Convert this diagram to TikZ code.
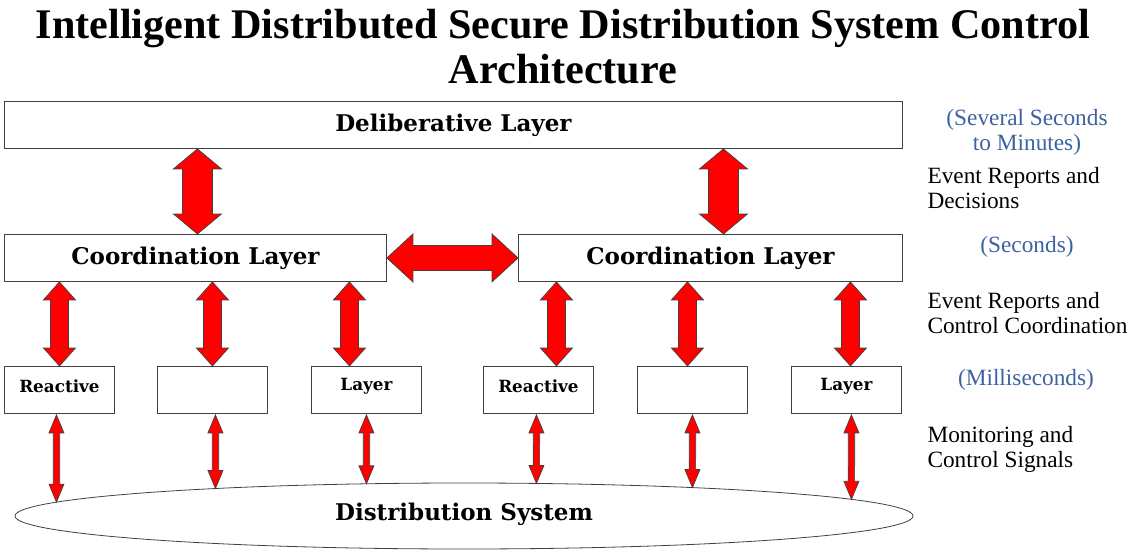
\documentclass[tikz,border=0pt]{standalone}
\usepackage{fontspec}
\setmainfont{Liberation Serif}
\newfontfamily\labelfont{DejaVu Serif}
\usetikzlibrary{calc,intersections}

\definecolor{timeblue}{RGB}{60,98,160}
\definecolor{edgegrey}{RGB}{64,64,64}

% fat double arrow, vertical: top tip, bottom tip, head half-width, shaft half-width, head length
\newcommand\vfat[5]{%
  \draw[fatarrow] (#1) -- ++(#3,#5) -- ++({#4-#3},0) -- ($(#2)+(#4,-#5)$)
    -- ++({#3-#4},0) -- (#2) -- ++(-#3,-#5) -- ++({#3-#4},0)
    -- ($(#1)+(-#4,#5)$) -- ++({#4-#3},0) -- cycle;}
% fat double arrow, horizontal: left tip, right tip, head half-width, shaft half-width, head length
\newcommand\hfat[5]{%
  \draw[fatarrow] (#1) -- ++(#5,-#3) -- ++(0,{#3-#4}) -- ($(#2)+(-#5,-#4)$)
    -- ++(0,{#4-#3}) -- (#2) -- ++(-#5,#3) -- ++(0,{#4-#3})
    -- ($(#1)+(#5,#4)$) -- ++(0,{#3-#4}) -- cycle;}

\begin{document}
\begin{tikzpicture}[x=1pt,y=-1pt,
  layerbox/.style={draw=edgegrey,line width=0.9pt,fill=white,inner sep=0pt,anchor=north west},
  boxlabel/.style={font=\labelfont\bfseries\fontsize{23}{26}\selectfont},
  smalllabel/.style={font=\labelfont\bfseries\fontsize{16.8}{19}\selectfont},
  fatarrow/.style={fill=red,draw=edgegrey,line width=0.7pt,line join=miter},
  timenote/.style={text=timeblue,font=\fontsize{23.3}{25}\selectfont,align=center},
  flownote/.style={font=\fontsize{23.3}{25}\selectfont,align=left,anchor=west}]
\useasboundingbox (0,0) rectangle (1128,552);

% title
\node[font=\bfseries\fontsize{42.2}{45}\selectfont,align=center] (title) at (563,47)
  {Intelligent Distributed Secure Distribution System Control\\Architecture};

% deliberative layer
\node[layerbox,minimum width=898pt,minimum height=47pt] (delib) at (4,101) {};
\node[boxlabel] (deliblbl) at (delib.center) {Deliberative Layer};

% coordination layers
\node[layerbox,minimum width=382pt,minimum height=47pt] (cl) at (4,234) {};
\node[boxlabel] (cllbl) at (cl.center) {Coordination Layer};
\node[layerbox,minimum width=384pt,minimum height=47pt] (cr) at (518,234) {};
\node[boxlabel] (crlbl) at (cr.center) {Coordination Layer};

% reactive layer boxes
\foreach \i/\x in {1/4,2/157,3/311,4/483,5/637,6/791}
  \node[layerbox,minimum width=110pt,minimum height=47pt] (r\i) at (\x,366) {};
\node[smalllabel] (r1lbl) at ($(r1.center)+(0,-4)$) {Reactive};
\node[smalllabel] (r3lbl) at ($(r3.center)+(0,-4)$) {Layer};
\node[smalllabel] (r4lbl) at ($(r4.center)+(0,-4)$) {Reactive};
\node[smalllabel] (r6lbl) at ($(r6.center)+(0,-4)$) {Layer};

% distribution system
\draw[name path=ell,line width=0.8pt,draw=edgegrey] (464,516) ellipse [x radius=449, y radius=33];
\node[boxlabel] (dist) at (464,514) {Distribution System};

% deliberative <-> coordination
\coordinate (a1b) at ($(cl.north)+(2,0)$);
\coordinate (a2b) at ($(cr.north)+(13,0)$);
\vfat{delib.south -| a1b}{a1b}{24}{15}{20}
\vfat{delib.south -| a2b}{a2b}{24}{15}{20}

% coordination <-> coordination
\hfat{cl.east}{cr.west}{24}{12.5}{26}

% coordination <-> reactive
\foreach \rb/\cb/\dx in {r1/cl/0,r2/cl/0,r3/cl/-17,r4/cr/18,r5/cr/-5,r6/cr/4}{
  \coordinate (t\rb) at ($(\rb.north)+(\dx,0)$);
  \vfat{\cb.south -| t\rb}{t\rb}{16}{9}{18}
}

% reactive <-> distribution system (upper rim of the ellipse only)
\foreach \n/\dx in {1/-3,2/3,3/0,4/-2,5/0,6/5}{
  \coordinate (s\n) at ($(r\n.south)+(\dx,1)$);
  \path[name path=vline\n] (s\n) -- ++(0,98);
  \path[name intersections={of={vline\n} and {ell},by={e\n}}];
  \vfat{s\n}{e\n}{7.5}{3.2}{18}
}

% timing and signal notes
\node[timenote] (t1) at (1027,132) {(Several Seconds\\ to Minutes)};
\node[flownote] (f1) at (924,188) {Event Reports and\\Decisions};
\node[timenote] (t2) at (1027,247) {(Seconds)};
\node[flownote] (f2) at (924,313) {Event Reports and\\Control Coordination};
\node[timenote] (t3) at (1026,380) {(Milliseconds)};
\node[flownote] (f3) at (924,449) {Monitoring and\\Control Signals};
\end{tikzpicture}
\end{document}
